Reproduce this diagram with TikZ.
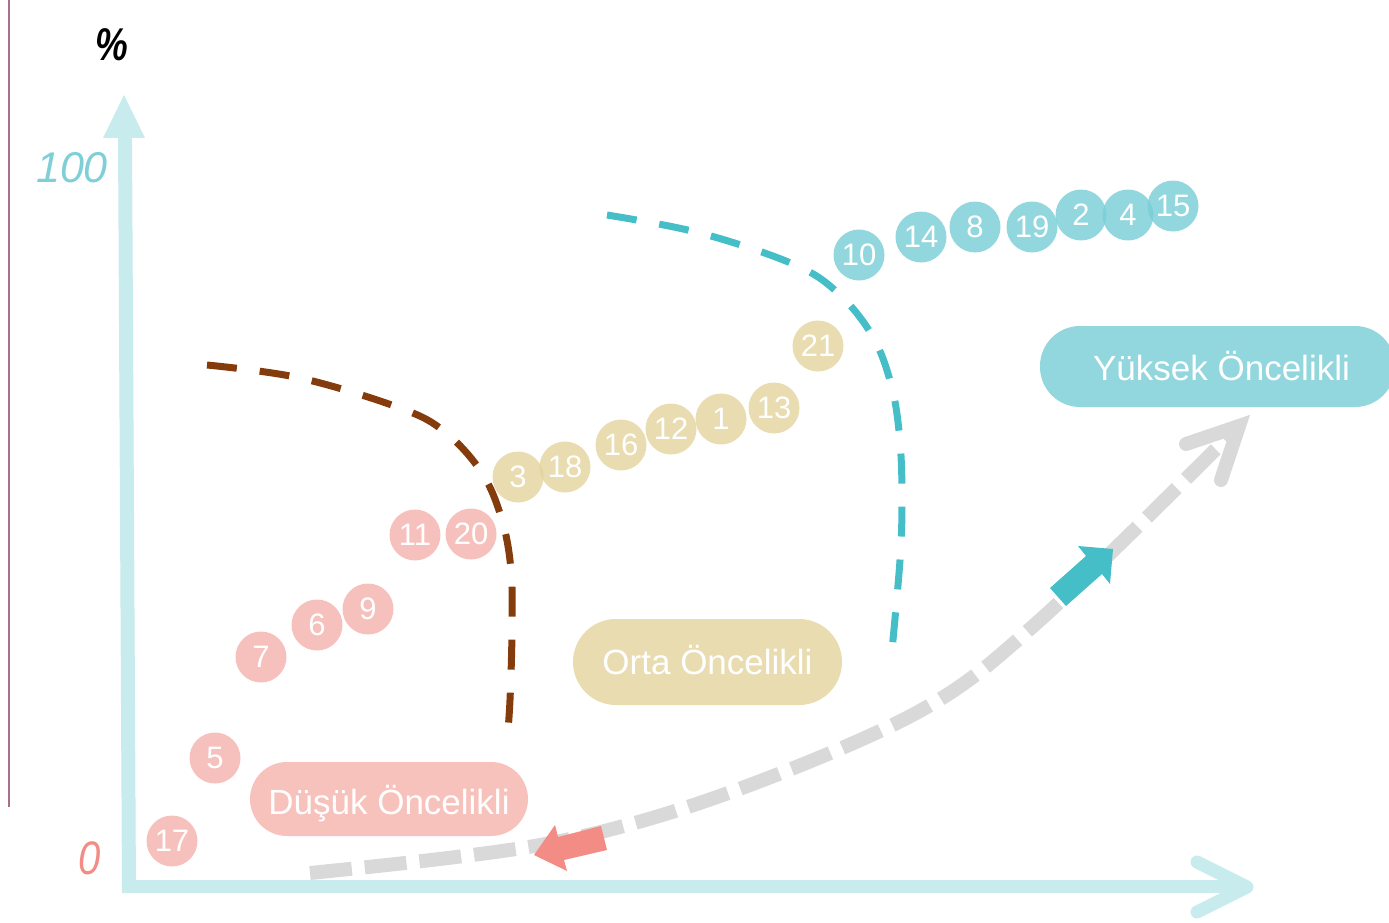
\documentclass[tikz,border=0pt]{standalone}
\usepackage{fontspec}
\setmainfont{Liberation Sans}
\definecolor{axisc}{HTML}{C8EBED}
\definecolor{pinkc}{HTML}{F4B2AD}
\definecolor{tanc}{HTML}{E2D39C}
\definecolor{bluec}{HTML}{78CDD6}
\definecolor{pinkp}{HTML}{F7C1BC}
\definecolor{tanp}{HTML}{E8DCB0}
\definecolor{bluep}{HTML}{93D7DE}
\definecolor{tealc}{HTML}{45BEC8}
\definecolor{brownc}{HTML}{843C0C}
\definecolor{grayc}{HTML}{D9D9D9}
\definecolor{salmonc}{HTML}{F28C84}
\definecolor{hundredc}{HTML}{7FCFD6}
\definecolor{leftc}{HTML}{A86E8C}
\begin{document}
\begin{tikzpicture}[x=1pt,y=-1pt,
  dot/.style={circle, inner sep=0pt, minimum size=51pt, fill opacity=0.8, text opacity=1,
    text=white, font=\fontsize{31}{31}\selectfont},
  lowc/.style={dot, fill=pinkc},
  midc/.style={dot, fill=tanc},
  highc/.style={dot, fill=bluec},
  pill/.style={rectangle, inner sep=0pt, text=white, text height=25pt, text depth=0pt,
    font=\fontsize{35}{35}\selectfont},
  bound/.style={line width=7pt, dash pattern=on 30pt off 23pt, line cap=butt},
  flow/.style={grayc, line width=14pt, dash pattern=on 42pt off 13pt},
  axisline/.style={axisc, line width=13pt},
  hand/.style={inner sep=0pt, font=\itshape}
]
\useasboundingbox (0,0) rectangle (1389,923);

% thin left line
\draw[leftc, line width=1.2pt] (9,0) -- (9,807);

% axes
\coordinate (ytop) at (125,135);
\coordinate (ybot) at (129,893);
\coordinate (xl) at (122,886);
\coordinate (xtip) at (1247,887);
\coordinate (xa1) at (1197,862);
\coordinate (xa2) at (1197,912);
\draw[axisc, line width=14pt] (ytop) -- (ybot);
\fill[axisc] (124,95) -- (145,138) -- (103,138) -- cycle;
\draw[axisline] (xl) -- (1240,886);
\draw[axisline, line cap=round, line join=round] (xa1) -- (xtip) -- (xa2);

% axis labels
\node[hand, font=\bfseries\itshape\fontsize{46}{46}\selectfont, xscale=0.8] (pct) at (112,45) {\%};
\node[hand, text=hundredc, font=\itshape\fontsize{43}{43}\selectfont] (hund) at (72,168) {100};
\node[hand, text=salmonc, font=\itshape\fontsize{47}{47}\selectfont, xscale=0.85] (zero) at (90,858) {0};

% grey flow curve
\draw[flow] plot[smooth, tension=0.55] coordinates {(310,873) (540,845) (717,797) (918,712) (1040,620) (1236,429)};
\coordinate (gtip) at (1239,426);
\coordinate (ga1) at (1186,444);
\coordinate (ga2) at (1221,480);
\draw[grayc, line width=14pt, line cap=round, line join=miter] (ga1) -- (gtip) -- (ga2);

% direction arrows
\fill[salmonc] (601,826) -- (558,837) -- (555,825) -- (534,855) -- (567,871) -- (564,860) -- (607,850) -- cycle;
\fill[tealc] (1050,588) -- (1086,556) -- (1078,546) -- (1113,549) -- (1110,584) -- (1102,574) -- (1066,606) -- cycle;

% pills
\node[pill, fill=pinkp, minimum width=278pt, minimum height=74pt, rounded corners=37pt] (low) at (389,799) {\raisebox{-3pt}{Düşük Öncelikli}};
\node[pill, fill=tanp, minimum width=269pt, minimum height=86pt, rounded corners=43pt] (mid) at (707.5,662) {Orta Öncelikli};
\node[pill, fill=bluep, minimum width=355pt, minimum height=81pt, rounded corners=40pt] (high) at (1217.5,366.5) {\hspace*{8pt}\raisebox{-1pt}{Yüksek Öncelikli}};

% low priority items
\node[lowc] (n17) at (172,841) {17};
\node[lowc] (n5) at (215,758) {5};
\node[lowc] (n7) at (261,657) {7};
\node[lowc] (n6) at (317,625) {6};
\node[lowc] (n9) at (368,609) {9};
\node[lowc] (n11) at (415,535) {11};
\node[lowc] (n20) at (471,534) {20};

% medium priority items
\node[midc] (n3) at (518,477) {3};
\node[midc] (n18) at (565,467) {18};
\node[midc] (n16) at (621,445) {16};
\node[midc] (n12) at (671,429) {12};
\node[midc] (n1) at (721,419) {1};
\node[midc] (n13) at (774,408) {13};
\node[midc] (n21) at (818,346) {21};

% high priority items
\node[highc] (n10) at (859,255) {10};
\node[highc] (n14) at (921,237) {14};
\node[highc] (n8) at (975,227) {8};
\node[highc] (n19) at (1032,227) {19};
\node[highc] (n2) at (1081,215) {2};
\node[highc] (n4) at (1128,215) {4};
\node[highc] (n15) at (1173,206) {15};

% boundaries
\draw[bound, brownc] plot[smooth, tension=0.6] coordinates {(207,365) (300,378) (400,408) (445,432) (482,473) (502,520) (511,570) (512,630) (510,700) (507,742)};
\draw[bound, tealc] plot[smooth, tension=0.6] coordinates {(607,215) (700,233) (793,264) (838,293) (873,337) (892,388) (900,442) (902,500) (900,560) (892,650)};
\end{tikzpicture}
\end{document}
